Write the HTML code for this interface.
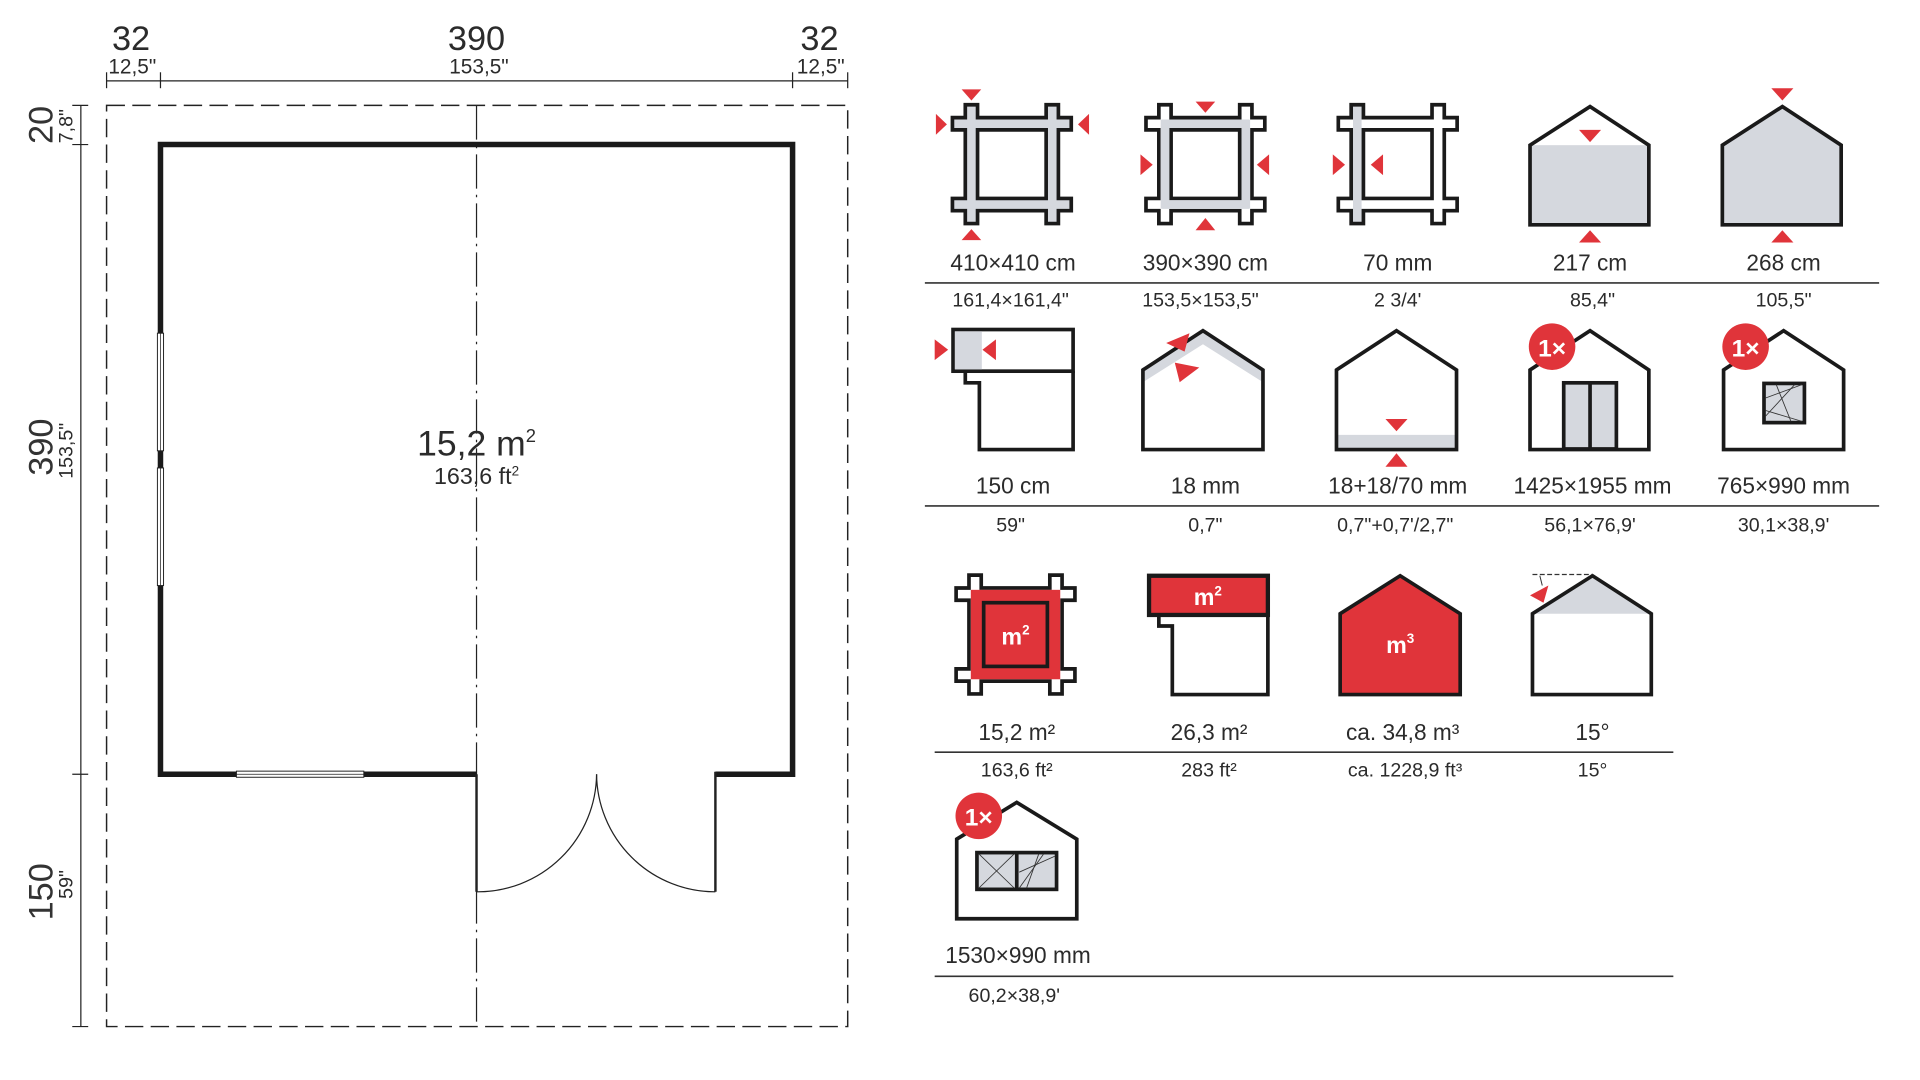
<!DOCTYPE html>
<html><head><meta charset="utf-8"><style>
html,body{margin:0;padding:0;background:#fff;}
svg{display:block;}
text{font-family:"Liberation Sans",sans-serif;fill:#2b2b2b;}
</style></head><body>
<svg width="1920" height="1080" viewBox="0 0 1567.35 881.63" preserveAspectRatio="none" xmlns="http://www.w3.org/2000/svg">
<rect width="1567.35" height="881.63" fill="#fff"/>
<!-- ===== FLOOR PLAN ===== -->
<g stroke="#222" fill="none">
  <line x1="87" y1="66" x2="692" y2="66" stroke-width="1"/>
  <line x1="87" y1="59" x2="87" y2="72" stroke-width="1"/>
  <line x1="131" y1="59" x2="131" y2="72" stroke-width="1"/>
  <line x1="647" y1="59" x2="647" y2="72" stroke-width="1"/>
  <line x1="692" y1="59" x2="692" y2="72" stroke-width="1"/>
  <line x1="66" y1="86" x2="66" y2="838" stroke-width="1"/>
  <line x1="59" y1="86" x2="72" y2="86" stroke-width="1"/>
  <line x1="59" y1="118" x2="72" y2="118" stroke-width="1"/>
  <line x1="59" y1="632" x2="72" y2="632" stroke-width="1"/>
  <line x1="59" y1="838" x2="72" y2="838" stroke-width="1"/>
  <rect x="87" y="86" width="605" height="752" stroke-width="1.2" stroke-dasharray="15,6"/>
  <line x1="389" y1="86" x2="389" y2="838" stroke-width="1" stroke-dasharray="28,5,2,5"/>
  <polyline points="389,632 131,632 131,118 647,118 647,632 584,632" stroke-width="4.5" stroke="#1a1a1a" stroke-linejoin="miter"/>
  <line x1="389" y1="632" x2="389" y2="728" stroke-width="2"/>
  <line x1="584" y1="630" x2="584" y2="728" stroke-width="2"/>
  <path d="M389,728 A97,97 0 0 0 487,632" stroke-width="1"/>
  <path d="M584,728 A97,97 0 0 1 487,632" stroke-width="1"/>
</g>
<g fill="#fff" stroke="#222" stroke-width="0.8">
  <rect x="128.5" y="272" width="5" height="96"/>
  <rect x="128.5" y="382" width="5" height="96"/>
  <rect x="193" y="629.5" width="104" height="5"/>
</g>
<g stroke="#222" stroke-width="0.6">
  <line x1="131" y1="272" x2="131" y2="368"/>
  <line x1="131" y1="382" x2="131" y2="478"/>
  <line x1="193" y1="632" x2="297" y2="632"/>
</g>
<g text-anchor="middle">
  <text x="107" y="41" font-size="28">32</text>
  <text x="108" y="60" font-size="17">12,5"</text>
  <text x="389" y="41" font-size="28">390</text>
  <text x="391" y="60" font-size="17">153,5"</text>
  <text x="669" y="41" font-size="28">32</text>
  <text x="670" y="60" font-size="17">12,5"</text>
  <text x="389" y="372" font-size="29">15,2 m<tspan font-size="15" dy="-11">2</tspan></text>
  <text x="389" y="395" font-size="19">163,6 ft<tspan font-size="11" dy="-7">2</tspan></text>
  <text transform="translate(43,102) rotate(-90)" font-size="28" style="fill:#333">20</text>
  <text transform="translate(59,103) rotate(-90)" font-size="16">7,8"</text>
  <text transform="translate(43,365) rotate(-90)" font-size="28" style="fill:#333">390</text>
  <text transform="translate(59,368) rotate(-90)" font-size="16">153,5"</text>
  <text transform="translate(43,728) rotate(-90)" font-size="28" style="fill:#333">150</text>
  <text transform="translate(59,722) rotate(-90)" font-size="16">59"</text>
</g>

<!-- Icon 1 -->
<g>
  <g stroke="#1a1a1a" stroke-width="13"><line x1="776" y1="101" x2="876" y2="101"/><line x1="776" y1="167" x2="876" y2="167"/><line x1="793" y1="84" x2="793" y2="184"/><line x1="859" y1="84" x2="859" y2="184"/></g>
  <g stroke="#d5d8de" stroke-width="7"><line x1="779" y1="101" x2="873" y2="101"/><line x1="779" y1="167" x2="873" y2="167"/><line x1="793" y1="87" x2="793" y2="181"/><line x1="859" y1="87" x2="859" y2="181"/></g>
  <g fill="#e0343a"><polygon points="785,73 801,73 793,82"/><polygon points="785,196 801,196 793,187"/><polygon points="764,93 764,110 773,101.5"/><polygon points="889,93 889,110 880,101.5"/></g>
</g>
<!-- Icon 2 -->
<g>
  <g stroke="#1a1a1a" stroke-width="13"><line x1="934" y1="101" x2="1034" y2="101"/><line x1="934" y1="167" x2="1034" y2="167"/><line x1="951" y1="84" x2="951" y2="184"/><line x1="1017" y1="84" x2="1017" y2="184"/></g>
  <g stroke="#fff" stroke-width="7"><line x1="937" y1="101" x2="1031" y2="101"/><line x1="937" y1="167" x2="1031" y2="167"/><line x1="951" y1="87" x2="951" y2="181"/><line x1="1017" y1="87" x2="1017" y2="181"/></g>
  <g stroke="#d5d8de" stroke-width="7"><line x1="948" y1="101" x2="1020" y2="101"/><line x1="948" y1="167" x2="1020" y2="167"/><line x1="951" y1="98" x2="951" y2="170"/><line x1="1017" y1="98" x2="1017" y2="170"/></g>
  <g fill="#e0343a"><polygon points="976,83 992,83 984,92"/><polygon points="976,188 992,188 984,178"/><polygon points="931,126 931,143 941,134.5"/><polygon points="1036,126 1036,143 1026,134.5"/></g>
</g>
<!-- Icon 3 -->
<g>
  <g stroke="#1a1a1a" stroke-width="13"><line x1="1091" y1="101" x2="1191" y2="101"/><line x1="1091" y1="167" x2="1191" y2="167"/><line x1="1108" y1="84" x2="1108" y2="184"/><line x1="1174" y1="84" x2="1174" y2="184"/></g>
  <g stroke="#fff" stroke-width="7"><line x1="1094" y1="101" x2="1188" y2="101"/><line x1="1094" y1="167" x2="1188" y2="167"/><line x1="1174" y1="87" x2="1174" y2="181"/></g>
  <line x1="1108" y1="87" x2="1108" y2="181" stroke="#d5d8de" stroke-width="7"/>
  <g fill="#e0343a"><polygon points="1088,126 1088,143 1098,134.5"/><polygon points="1129,126 1129,143 1119,134.5"/></g>
</g>
<!-- Icon 4 -->
<g>
  <rect x="1249" y="118.5" width="97" height="65" fill="#d5d8de"/>
  <polygon points="1249,118.5 1298,87 1346,118.5 1346,183.5 1249,183.5" fill="none" stroke="#1a1a1a" stroke-width="3"/>
  <g fill="#e0343a"><polygon points="1289,106 1307,106 1298,116"/><polygon points="1289,198 1307,198 1298,188"/></g>
</g>
<!-- Icon 5 -->
<g>
  <polygon points="1406,118.5 1455,87 1503,118.5 1503,183.5 1406,183.5" fill="#d5d8de" stroke="#1a1a1a" stroke-width="3"/>
  <g fill="#e0343a"><polygon points="1446,72 1464,72 1455,82"/><polygon points="1446,198 1464,198 1455,188"/></g>
</g>
<!-- Icon 6 -->
<g>
  <rect x="778" y="269" width="98" height="34" fill="#fff" stroke="#1a1a1a" stroke-width="3"/>
  <rect x="779.5" y="270.5" width="22" height="31" fill="#d5d8de"/>
  <polyline points="788,303 788,312.5 799.5,312.5 799.5,367 876,367 876,303" fill="none" stroke="#1a1a1a" stroke-width="3"/>
  <g fill="#e0343a"><polygon points="763,277 763,294 774,285.5"/><polygon points="813,277 813,294 802,285.5"/></g>
</g>
<!-- Icon 7 -->
<g>
  <polygon points="933,302 982,270 1031,302 1031,312 982,281 933,312" fill="#d5d8de"/>
  <polygon points="933,302 982,270 1031,302 1031,367 933,367" fill="none" stroke="#1a1a1a" stroke-width="3"/>
  <g fill="#e0343a"><polygon points="971,272 952,280 967,287"/><polygon points="959,296 963,312 979,300"/></g>
</g>
<!-- Icon 8 -->
<g>
  <rect x="1091" y="355" width="98" height="12" fill="#d5d8de"/>
  <polygon points="1091,302 1140,270 1189,302 1189,367 1091,367" fill="none" stroke="#1a1a1a" stroke-width="3"/>
  <g fill="#e0343a"><polygon points="1131,342 1149,342 1140,352"/><polygon points="1131,381 1149,381 1140,370"/></g>
</g>
<!-- Icon 9 -->
<g>
  <polygon points="1249,302 1298,270 1346,302 1346,367 1249,367" fill="#fff" stroke="#1a1a1a" stroke-width="3"/>
  <rect x="1276.5" y="312.5" width="43" height="54" fill="#d5d8de" stroke="#1a1a1a" stroke-width="3"/>
  <line x1="1298" y1="312" x2="1298" y2="367" stroke="#1a1a1a" stroke-width="3"/>
  <circle cx="1267" cy="283" r="19" fill="#e0343a"/>
  <text x="1267" y="291" font-size="20" text-anchor="middle" font-weight="bold" style="fill:#fff">1×</text>
</g>
<!-- Icon 10 -->
<g>
  <polygon points="1407,302 1456,270 1505,302 1505,367 1407,367" fill="#fff" stroke="#1a1a1a" stroke-width="3"/>
  <rect x="1440" y="313" width="33" height="32" fill="#d5d8de" stroke="#1a1a1a" stroke-width="3"/>
  <g stroke="#333" stroke-width="0.7"><line x1="1441" y1="325" x2="1471" y2="314"/><line x1="1441" y1="335" x2="1471" y2="344"/><line x1="1450" y1="314" x2="1462" y2="344"/><line x1="1441" y1="340" x2="1465" y2="314"/></g>
  <circle cx="1425" cy="283" r="19" fill="#e0343a"/>
  <text x="1425" y="291" font-size="20" text-anchor="middle" font-weight="bold" style="fill:#fff">1×</text>
</g>
<!-- Icon 11 -->
<g>
  <g stroke="#1a1a1a" stroke-width="13"><line x1="779" y1="485" x2="879" y2="485"/><line x1="779" y1="551" x2="879" y2="551"/><line x1="796" y1="468" x2="796" y2="568"/><line x1="862" y1="468" x2="862" y2="568"/></g>
  <g stroke="#fff" stroke-width="7"><line x1="782" y1="485" x2="876" y2="485"/><line x1="782" y1="551" x2="876" y2="551"/><line x1="796" y1="471" x2="796" y2="565"/><line x1="862" y1="471" x2="862" y2="565"/></g>
  <rect x="792.5" y="481.5" width="73" height="73" fill="#e0343a"/>
  <rect x="803" y="492" width="52" height="52" fill="#e0343a" stroke="#1a1a1a" stroke-width="3"/>
  <text x="829" y="526" font-size="19" text-anchor="middle" font-weight="bold" style="fill:#fff">m<tspan font-size="11" dy="-8">2</tspan></text>
</g>
<!-- Icon 12 -->
<g>
  <rect x="938" y="470" width="97" height="32" fill="#e0343a" stroke="#1a1a1a" stroke-width="3.5"/>
  <polyline points="946,502 946,511 957,511 957,567 1035,567 1035,502" fill="none" stroke="#1a1a1a" stroke-width="3"/>
  <text x="986" y="494" font-size="19" text-anchor="middle" font-weight="bold" style="fill:#fff">m<tspan font-size="11" dy="-8">2</tspan></text>
</g>
<!-- Icon 13 -->
<g>
  <polygon points="1094,501 1143,470 1192,501 1192,567 1094,567" fill="#e0343a" stroke="#1a1a1a" stroke-width="3"/>
  <text x="1143" y="533" font-size="19" text-anchor="middle" font-weight="bold" style="fill:#fff">m<tspan font-size="11" dy="-8">3</tspan></text>
</g>
<!-- Icon 14 -->
<g>
  <polygon points="1251,501 1300,470 1348,501" fill="#d5d8de"/>
  <polygon points="1251,501 1300,470 1348,501 1348,567 1251,567" fill="none" stroke="#1a1a1a" stroke-width="3"/>
  <line x1="1251" y1="469" x2="1300" y2="469" stroke="#333" stroke-width="1" stroke-dasharray="4,2"/>
  <line x1="1257" y1="470" x2="1259" y2="478" stroke="#333" stroke-width="0.8"/>
  <polygon points="1249,486 1264,478 1260,492" fill="#e0343a"/>
</g>
<!-- Icon 15 -->
<g>
  <polygon points="781,685 830,655 879,685 879,750 781,750" fill="#fff" stroke="#1a1a1a" stroke-width="3"/>
  <rect x="797.5" y="696" width="65" height="30" fill="#d5d8de" stroke="#1a1a1a" stroke-width="3"/>
  <line x1="830" y1="696" x2="830" y2="726" stroke="#1a1a1a" stroke-width="3"/>
  <g stroke="#333" stroke-width="0.7"><line x1="799" y1="697" x2="828" y2="725"/><line x1="799" y1="725" x2="828" y2="697"/><line x1="832" y1="725" x2="852" y2="697"/><line x1="838" y1="725" x2="848" y2="697"/><line x1="832" y1="712" x2="861" y2="699"/></g>
  <circle cx="799" cy="666" r="19" fill="#e0343a"/>
  <text x="799" y="674" font-size="20" text-anchor="middle" font-weight="bold" style="fill:#fff">1×</text>
</g>

<g stroke="#333" stroke-width="1.3">
  <line x1="755" y1="231" x2="1534" y2="231"/>
  <line x1="755" y1="413" x2="1534" y2="413"/>
  <line x1="763" y1="614" x2="1366" y2="614"/>
  <line x1="763" y1="797" x2="1366" y2="797"/>
</g>
<g text-anchor="middle" font-size="18.5">
  <text x="827" y="221">410×410 cm</text>
  <text x="984" y="221">390×390 cm</text>
  <text x="1141" y="221">70 mm</text>
  <text x="1298" y="221">217 cm</text>
  <text x="1456" y="221">268 cm</text>
  <text x="827" y="403">150 cm</text>
  <text x="984" y="403">18 mm</text>
  <text x="1141" y="403">18+18/70 mm</text>
  <text x="1300" y="403">1425×1955 mm</text>
  <text x="1456" y="403">765×990 mm</text>
  <text x="830" y="604">15,2 m²</text>
  <text x="987" y="604">26,3 m²</text>
  <text x="1145" y="604">ca. 34,8 m³</text>
  <text x="1300" y="604">15°</text>
  <text x="831" y="786">1530×990 mm</text>
</g>
<g text-anchor="middle" font-size="16" style="fill:#333">
  <text x="825" y="250">161,4×161,4"</text>
  <text x="980" y="250">153,5×153,5"</text>
  <text x="1141" y="250">2  3/4'</text>
  <text x="1300" y="250">85,4"</text>
  <text x="1456" y="250">105,5"</text>
  <text x="825" y="434">59"</text>
  <text x="984" y="434">0,7"</text>
  <text x="1139" y="434">0,7"+0,7'/2,7"</text>
  <text x="1298" y="434">56,1×76,9'</text>
  <text x="1456" y="434">30,1×38,9'</text>
  <text x="830" y="634">163,6 ft²</text>
  <text x="987" y="634">283 ft²</text>
  <text x="1147" y="634">ca. 1228,9 ft³</text>
  <text x="1300" y="634">15°</text>
  <text x="828" y="818">60,2×38,9'</text>
</g>
</svg>
</body></html>
